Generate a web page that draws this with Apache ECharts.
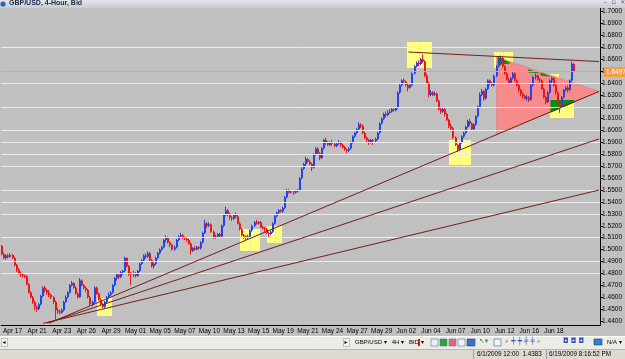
<!DOCTYPE html>
<html>
<head>
<meta charset="utf-8">
<script src="https://cdn.jsdelivr.net/npm/echarts@6/dist/echarts.min.js"></script>
<style>
  html, body { margin: 0; padding: 0; background: #c0c0c0; }
  #chart { width: 625px; height: 359px; }
</style>
</head>
<body>
<div id="chart"></div>
<script>
// GBP/USD 4-hour bars, Apr 16 - Jun 19 2009, [open, close, low, high] in pips (x 1e-4)
const ohlc = [
  [15030,14960,14950,15040],[14960,14930,14920,14975],[14930,14950,14915,14960],[14950,14940,14925,14965],[14940,14955,14930,14970],[14955,14930,14920,14965],
  [14930,14870,14860,14940],[14870,14830,14810,14880],[14830,14800,14790,14845],[14800,14790,14770,14815],[14790,14780,14765,14800],[14780,14775,14760,14790],
  [14775,14710,14700,14785],[14710,14640,14630,14720],[14640,14600,14590,14650],[14600,14560,14540,14610],[14560,14520,14490,14570],[14520,14500,14475,14530],
  [14500,14540,14490,14550],[14540,14610,14530,14620],[14610,14680,14600,14690],[14680,14660,14640,14695],[14660,14640,14620,14670],[14640,14620,14600,14660],
  [14620,14600,14585,14630],[14600,14560,14540,14610],[14560,14490,14410,14570],[14490,14480,14460,14510],[14480,14470,14455,14495],[14470,14490,14460,14505],
  [14490,14560,14480,14570],[14560,14600,14550,14615],[14600,14640,14590,14650],[14640,14700,14630,14710],[14700,14720,14690,14735],[14720,14680,14670,14725],
  [14680,14630,14620,14690],[14630,14600,14590,14640],[14600,14740,14595,14760],[14740,14700,14690,14750],[14700,14680,14665,14710],[14680,14660,14640,14690],
  [14660,14600,14590,14670],[14600,14540,14530,14610],[14540,14560,14525,14570],[14560,14680,14550,14690],[14680,14630,14620,14690],[14630,14580,14570,14640],
  [14580,14540,14530,14590],[14540,14520,14505,14550],[14520,14560,14510,14570],[14560,14600,14550,14610],[14600,14620,14590,14640],[14620,14640,14610,14650],
  [14640,14700,14630,14710],[14700,14760,14690,14770],[14760,14790,14740,14800],[14790,14770,14750,14800],[14770,14810,14760,14820],[14810,14820,14790,14830],
  [14820,14930,14810,14940],[14930,14860,14850,14935],[14860,14800,14780,14870],[14800,14790,14700,14810],[14790,14800,14770,14820],[14800,14780,14765,14810],
  [14780,14820,14770,14830],[14820,14880,14810,14890],[14880,14910,14870,14920],[14910,14950,14900,14960],[14950,14940,14925,14970],[14940,14970,14930,14985],
  [14970,14910,14900,14980],[14910,14860,14850,14920],[14860,14880,14840,14890],[14880,14930,14870,14940],[14930,14970,14920,14980],[14970,15000,14960,15010],
  [15000,15020,14990,15030],[15020,15080,15010,15090],[15080,15100,15060,15120],[15100,15060,15050,15110],[15060,15040,15020,15070],[15040,15000,14990,15050],
  [15000,15020,14990,15035],[15020,15080,15010,15090],[15080,15110,15070,15120],[15110,15120,15100,15140],[15120,15100,15085,15130],[15100,15090,15080,15110],
  [15090,15080,15065,15100],[15080,15050,15040,15090],[15050,14990,14960,15060],[14990,15010,14980,15020],[15010,15000,14990,15030],[15000,15020,14995,15030],
  [15020,15010,15000,15030],[15010,15060,15000,15070],[15060,15140,15050,15150],[15140,15220,15130,15250],[15220,15200,15180,15230],[15200,15210,15190,15230],
  [15210,15150,15140,15220],[15150,15100,15090,15160],[15100,15110,15090,15125],[15110,15130,15100,15140],[15130,15110,15100,15140],[15110,15200,15100,15210],
  [15200,15290,15190,15300],[15290,15330,15280,15360],[15330,15300,15280,15340],[15300,15270,15250,15310],[15270,15260,15240,15280],[15260,15290,15250,15300],
  [15290,15280,15260,15310],[15280,15220,15210,15290],[15220,15170,15160,15230],[15170,15120,15110,15180],[15120,15110,15090,15130],[15110,15100,15080,15120],
  [15100,15110,15085,15125],[15110,15160,15100,15170],[15160,15200,15150,15210],[15200,15230,15190,15240],[15230,15220,15210,15250],[15220,15230,15210,15240],
  [15230,15190,15180,15240],[15190,15180,15170,15200],[15180,15170,15150,15190],[15170,15140,15130,15180],[15140,15130,15100,15150],[15130,15150,15120,15160],
  [15150,15220,15140,15230],[15220,15280,15210,15290],[15280,15310,15270,15320],[15310,15330,15300,15340],[15330,15320,15310,15340],[15320,15350,15310,15360],
  [15350,15440,15340,15450],[15440,15500,15430,15510],[15500,15480,15470,15510],[15480,15490,15470,15500],[15490,15480,15460,15500],[15480,15490,15470,15500],
  [15490,15500,15480,15510],[15500,15600,15490,15610],[15600,15680,15590,15690],[15680,15720,15670,15730],[15720,15760,15700,15780],[15760,15740,15730,15770],
  [15740,15720,15710,15750],[15720,15690,15660,15730],[15690,15800,15680,15810],[15800,15850,15790,15860],[15850,15810,15800,15860],[15810,15770,15750,15820],
  [15770,15850,15760,15860],[15850,15920,15840,15930],[15920,15900,15880,15940],[15900,15880,15870,15910],[15880,15900,15870,15910],[15900,15890,15870,15920],
  [15890,15870,15860,15900],[15870,15890,15860,15900],[15890,15900,15880,15920],[15900,15880,15860,15910],[15880,15860,15850,15890],[15860,15840,15830,15870],
  [15840,15830,15810,15850],[15830,15850,15820,15860],[15850,15900,15840,15910],[15900,15950,15890,15960],[15950,15980,15940,15990],[15980,16010,15970,16020],
  [16010,16050,16000,16070],[16050,16040,16020,16060],[16040,15980,15970,16050],[15980,15940,15930,15990],[15940,15920,15900,15950],[15920,15900,15880,15930],
  [15900,15920,15890,15930],[15920,15910,15880,15930],[15910,15930,15900,15940],[15930,15980,15920,15990],[15980,16060,15970,16070],[16060,16100,16050,16110],
  [16100,16140,16090,16150],[16140,16130,16110,16160],[16130,16150,16120,16170],[16150,16160,16140,16180],[16160,16180,16150,16190],[16180,16170,16160,16200],
  [16170,16190,16160,16200],[16190,16320,16180,16330],[16320,16380,16310,16390],[16380,16420,16370,16430],[16420,16410,16390,16440],[16410,16380,16370,16420],
  [16380,16360,16330,16390],[16360,16380,16350,16400],[16380,16480,16370,16490],[16480,16540,16470,16550],[16540,16570,16530,16580],[16570,16560,16540,16590],
  [16560,16600,16550,16610],[16600,16580,16570,16640],[16580,16460,16450,16590],[16460,16400,16390,16480],[16400,16300,16280,16410],[16300,16320,16290,16340],
  [16320,16300,16290,16330],[16300,16310,16290,16330],[16310,16250,16240,16320],[16250,16180,16170,16260],[16180,16160,16140,16190],[16160,16180,16150,16200],
  [16180,16140,16120,16190],[16140,16090,16080,16150],[16090,16040,16020,16100],[16040,16020,16000,16060],[16020,15940,15930,16030],[15940,15880,15870,15950],
  [15880,15840,15820,15890],[15840,15900,15830,15910],[15900,15950,15890,15960],[15950,15980,15940,15990],[15980,16030,15970,16040],[16030,16080,16020,16090],
  [16080,16060,16040,16100],[16060,16010,16000,16070],[16010,16050,16000,16060],[16050,16120,16040,16130],[16120,16200,16110,16210],[16200,16300,16190,16320],
  [16300,16330,16290,16350],[16330,16270,16250,16340],[16270,16350,16260,16360],[16350,16420,16340,16430],[16420,16400,16380,16430],[16400,16380,16370,16410],
  [16380,16460,16370,16470],[16460,16540,16450,16550],[16540,16590,16530,16600],[16590,16610,16580,16630],[16610,16540,16530,16620],[16540,16480,16470,16550],
  [16480,16430,16420,16490],[16430,16400,16390,16440],[16400,16440,16390,16450],[16440,16480,16430,16500],[16480,16420,16410,16490],[16420,16380,16370,16430],
  [16380,16340,16320,16390],[16340,16310,16290,16350],[16310,16290,16270,16320],[16290,16270,16260,16300],[16270,16280,16250,16300],[16280,16260,16240,16290],
  [16260,16380,16250,16390],[16380,16450,16370,16460],[16450,16460,16430,16480],[16460,16430,16420,16470],[16430,16420,16400,16440],[16420,16350,16340,16430],
  [16350,16280,16270,16360],[16280,16240,16220,16290],[16240,16320,16230,16330],[16320,16420,16310,16430],[16420,16440,16400,16450],[16440,16380,16370,16450],
  [16380,16320,16300,16390],[16320,16230,16220,16330],[16230,16200,16150,16240],[16200,16280,16190,16290],[16280,16340,16270,16350],[16340,16360,16330,16370],
  [16360,16340,16320,16380],[16340,16420,16330,16430],[16420,16560,16410,16580],[16560,16497,16490,16570]
];

const slotCount = 292;              // bar slots across the window (incl. chart shift)
const xLabels = ['Apr 17','Apr 21','Apr 23','Apr 26','Apr 29','May 01','May 05','May 07','May 10','May 13','May 15',
  'May 19','May 21','May 24','May 27','May 29','Jun 02','Jun 04','Jun 07','Jun 10','Jun 12','Jun 16','Jun 18'];
const firstLabelBar = 5, barsPerLabel = 12, barsPerDay = 6;

const yTicks = [1.44,1.45,1.46,1.47,1.48,1.49,1.50,1.51,1.52,1.53,1.54,1.55,1.56,1.57,1.58,1.59,
  1.60,1.61,1.62,1.63,1.64,1.65,1.66,1.67,1.68,1.69,1.70];
const lastPrice = 1.6497;

// horizontal levels drawn on the chart
const levels = [1.6660,1.6383,1.6190,1.6040,1.5938,1.5812,1.5711,1.5526,1.5358,1.5299,1.5064,1.4900,1.4770];

// trend lines [[bar, price], [bar, price]]
const trendLines = [
  [[23, 1.4383], [291, 1.6329]],
  [[22, 1.4382], [291, 1.5930]],
  [[20, 1.4380], [291, 1.5500]],
  [[198, 1.6660], [291, 1.6580]]
];

// highlighted rectangles [fromBar, toBar, low, high]
const boxes = [
  [46, 53.3, 1.4442, 1.4593],
  [115.7, 125.4, 1.4988, 1.5173],
  [129.3, 136.5, 1.5055, 1.5198],
  [197.1, 209.2, 1.6526, 1.6745],
  [217.9, 228.6, 1.5711, 1.5921],
  [239.7, 248.9, 1.6526, 1.6660],
  [267.3, 278.9, 1.6106, 1.6324],
  [266.8, 271.5, 1.6425, 1.6476]
];

// filled triangle objects [[bar, price], ...]
const pinkTriangle = [[241, 1.6618], [291, 1.6329], [241, 1.5966]];
const greenShapes = [
  [[241.5, 1.6622], [248, 1.6565], [241.5, 1.6548]],
  [[256.5, 1.6515], [262.5, 1.6482], [256.5, 1.6488]],
  [[262.5, 1.6488], [268, 1.6450], [262.5, 1.6462]],
  [[267.3, 1.6257], [278.9, 1.6257], [278.9, 1.6235], [267.3, 1.6150]]
];

const categories = [];
for (let i = 0; i < slotCount; i++) categories.push(String(i));
const labelAt = {};
xLabels.forEach((t, k) => { labelAt[firstLabelBar + k * barsPerLabel] = t; });

const candleData = ohlc.map((r, i) => [i].concat(r.map(v => v / 10000)));

const chart = echarts.init(document.getElementById('chart'));

function pt(api, bw, i, p) {
  const b = Math.floor(i);
  const c = api.coord([b, p]);
  return [c[0] + (i - b) * bw, c[1]];
}

const font = 'Liberation Sans';
const bull = '#2444e8', bear = '#e81818';

chart.setOption({
  backgroundColor: '#c0c0c0',
  animation: false,
  grid: { left: 0, right: 22, top: 8, bottom: 34 },
  xAxis: {
    type: 'category',
    data: categories,
    boundaryGap: true,
    axisLine: { lineStyle: { color: '#000', width: 1 } },
    axisTick: {
      alignWithLabel: true, length: 3, lineStyle: { color: '#000' },
      interval: i => i >= firstLabelBar && (i - firstLabelBar) % barsPerDay === 0
    },
    axisLabel: {
      interval: i => labelAt[i] !== undefined,
      formatter: (v, i) => labelAt[i] || '',
      color: '#000', fontSize: 6.5, fontFamily: font, margin: 3
    },
    splitLine: { show: false }
  },
  yAxis: {
    type: 'value',
    position: 'right',
    min: 1.4366, max: 1.7030,
    axisLine: { show: true, lineStyle: { color: '#000' } },
    axisTick: { show: true, length: 3, customValues: yTicks, lineStyle: { color: '#000' } },
    axisLabel: {
      customValues: yTicks, formatter: v => v.toFixed(4),
      color: '#000', fontSize: 6.5, fontFamily: font, margin: 2
    },
    splitLine: { show: false }
  },
  series: [
    {
      name: 'boxes', type: 'custom', z: 1, silent: true,
      data: boxes.map(b => [Math.round(b[0]), b[2]]),
      renderItem(params, api) {
        const b = boxes[params.dataIndex];
        const bw = api.size([1, 0])[0];
        const a = pt(api, bw, b[0], b[3]);
        const c = pt(api, bw, b[1], b[2]);
        const mx = Math.round((a[0] + c[0]) / 2) + 0.5;
        return {
          type: 'group',
          children: [
            { type: 'rect', shape: { x: Math.round(a[0]), y: Math.round(a[1]),
                width: Math.round(c[0] - a[0]), height: Math.round(c[1] - a[1]) },
              style: { fill: '#ffff80' } },
            { type: 'line', shape: { x1: mx, y1: a[1], x2: mx, y2: c[1] },
              style: { stroke: '#d8d8b0', lineWidth: 1, lineDash: [1, 2] } }
          ]
        };
      }
    },
    {
      name: 'triangle', type: 'custom', z: 1, silent: true,
      data: [[pinkTriangle[0][0], pinkTriangle[0][1]]],
      renderItem(params, api) {
        const bw = api.size([1, 0])[0];
        return { type: 'polygon', shape: { points: pinkTriangle.map(p => pt(api, bw, p[0], p[1])) },
          style: { fill: '#f78a8a', stroke: '#e07070', lineWidth: 0.5 } };
      }
    },
    {
      name: 'levels', type: 'line', z: 2, silent: true, data: [],
      markLine: {
        silent: true, symbol: 'none', animation: false,
        label: { show: false },
        lineStyle: { color: '#ececec', width: 1, type: 'solid' },
        data: levels.map(v => ({ yAxis: v })).concat([{ yAxis: lastPrice, lineStyle: { color: '#e8a46a', width: 1 } }])
      }
    },
    {
      name: 'green', type: 'custom', z: 3, silent: true,
      data: greenShapes.map(s => [Math.round(s[0][0]), s[0][1]]),
      renderItem(params, api) {
        const s = greenShapes[params.dataIndex];
        const bw = api.size([1, 0])[0];
        return { type: 'polygon', shape: { points: s.map(p => pt(api, bw, p[0], p[1])) },
          style: { fill: '#0a8a14' } };
      }
    },
    {
      name: 'GBPUSD', type: 'custom', z: 4,
      data: candleData,
      encode: { x: 0, y: [1, 2, 3, 4] },
      renderItem(params, api) {
        const i = api.value(0);
        const o = api.coord([i, api.value(1)]);
        const c = api.coord([i, api.value(2)]);
        const l = api.coord([i, api.value(3)]);
        const h = api.coord([i, api.value(4)]);
        const col = api.value(2) >= api.value(1) ? bull : bear;
        const x = Math.round(o[0]);
        const top = Math.min(o[1], c[1]);
        const ht = Math.max(1, Math.abs(o[1] - c[1]));
        return {
          type: 'group',
          children: [
            { type: 'line', shape: { x1: x - 0.5, y1: h[1], x2: x - 0.5, y2: l[1] },
              style: { stroke: col, lineWidth: 1 } },
            { type: 'rect', shape: { x: x - 1, y: top, width: 2, height: ht },
              style: { fill: col } }
          ]
        };
      }
    },
    {
      name: 'trend', type: 'custom', z: 5, silent: true,
      data: trendLines.map(l => [l[0][0], l[0][1]]),
      renderItem(params, api) {
        const l = trendLines[params.dataIndex];
        const bw = api.size([1, 0])[0];
        const a = pt(api, bw, l[0][0], l[0][1]);
        const b = pt(api, bw, l[1][0], l[1][1]);
        return { type: 'line', shape: { x1: a[0], y1: a[1], x2: b[0], y2: b[1] },
          style: { stroke: '#7a1a1a', lineWidth: 1 } };
      }
    }
  ],
  graphic: [
    // window title bar
    { type: 'rect', shape: { x: 0, y: 0, width: 625, height: 8 },
      style: { fill: { type: 'linear', x: 0, y: 0, x2: 0, y2: 1,
        colorStops: [{ offset: 0, color: '#e4e6ea' }, { offset: 1, color: '#c9ccd2' }] } }, z: 10 },
    { type: 'circle', shape: { cx: 3, cy: 4, r: 2.6 }, style: { fill: '#2a6ab0' }, z: 11 },
    { type: 'text', left: 9, top: 0, z: 11,
      style: { text: 'GBP/USD, 4-Hour, Bid', fontSize: 7, fontWeight: 'bold', fontFamily: font, fill: '#1a2a44' } },
    { type: 'text', left: 604, top: -1, z: 11,
      style: { text: '–  ▫  ×', fontSize: 6.5, fontFamily: 'DejaVu Sans', fill: '#505050' } },
    // last price tag
    { type: 'rect', shape: { x: 604, y: 67, width: 21, height: 10 }, style: { fill: '#f0a048' }, z: 10 },
    { type: 'text', left: 606, top: 68.5, z: 11,
      style: { text: lastPrice.toFixed(4), fontSize: 6.5, fontFamily: font, fill: '#ffffff' } },
    // toolbar
    { type: 'rect', shape: { x: 0, y: 337, width: 625, height: 12 }, style: { fill: '#ecebe4' }, z: 10 },
    { type: 'line', shape: { x1: 0, y1: 336.5, x2: 625, y2: 336.5 }, style: { stroke: '#ffffff' }, z: 10 },
    { type: 'rect', shape: { x: 1.5, y: 338.5, width: 6, height: 8 }, style: { fill: '#f4f4f0', stroke: '#909090', lineWidth: 0.5 }, z: 11 },
    { type: 'text', left: 2.5, top: 339, z: 12, style: { text: '◂', fontSize: 6, fontFamily: 'DejaVu Sans', fill: '#000' } },
    { type: 'rect', shape: { x: 343.5, y: 338.5, width: 6, height: 8 }, style: { fill: '#f4f4f0', stroke: '#909090', lineWidth: 0.5 }, z: 11 },
    { type: 'text', left: 344.5, top: 339, z: 12, style: { text: '▸', fontSize: 6, fontFamily: 'DejaVu Sans', fill: '#000' } },
    { type: 'text', left: 355, top: 339.5, z: 11, style: { text: 'GBP/USD ▾   4H ▾   BID ▾', fontSize: 6, fontFamily: font, fill: '#000' } },
    { type: 'rect', shape: { x: 418, y: 339, width: 2, height: 7 }, style: { fill: '#d01818' }, z: 11 },
    { type: 'rect', shape: { x: 431, y: 339, width: 7, height: 7 }, style: { fill: '#e8f0f8', stroke: '#4a78b8', lineWidth: 0.6 }, z: 11 },
    { type: 'rect', shape: { x: 440, y: 339, width: 7, height: 7 }, style: { fill: '#30a030', stroke: '#4a78b8', lineWidth: 0.6 }, z: 11 },
    { type: 'rect', shape: { x: 449, y: 339, width: 7, height: 7 }, style: { fill: '#e86868', stroke: '#4a78b8', lineWidth: 0.6 }, z: 11 },
    { type: 'rect', shape: { x: 458, y: 339, width: 7, height: 7 }, style: { fill: '#f0f0f0', stroke: '#4a78b8', lineWidth: 0.6 }, z: 11 },
    { type: 'rect', shape: { x: 467, y: 339, width: 8, height: 7 }, style: { fill: '#4070c0', stroke: '#204080', lineWidth: 0.6 }, z: 11 },
    { type: 'text', left: 479, top: 338, z: 11, style: { text: '↖▾', fontSize: 7, fontFamily: 'DejaVu Sans', fill: '#30a030' } },
    { type: 'rect', shape: { x: 494, y: 339, width: 7, height: 7 }, style: { fill: '#f0f4fa', stroke: '#3060a0', lineWidth: 0.6 }, z: 11 },
    { type: 'text', left: 505, top: 337.5, z: 11, style: { text: '⌕ ┿ ┿ ╪ ╪ ⌕', fontSize: 7, fontFamily: 'DejaVu Sans', fill: '#3050c0' } },
    { type: 'text', left: 563, top: 337.5, z: 11, style: { text: '◘ ◘ ◘', fontSize: 7, fontFamily: 'DejaVu Sans', fill: '#3050c0' } },
    { type: 'rect', shape: { x: 594, y: 339, width: 8, height: 6 }, style: { fill: '#3080d0', stroke: '#204080', lineWidth: 0.6 }, z: 11 },
    { type: 'text', left: 607, top: 339.5, z: 11, style: { text: 'N/A ▾', fontSize: 6, fontFamily: font, fill: '#000' } },
    // status bar
    { type: 'rect', shape: { x: 0, y: 349, width: 625, height: 10 }, style: { fill: '#dcdad2' }, z: 10 },
    { type: 'line', shape: { x1: 0, y1: 349.5, x2: 625, y2: 349.5 }, style: { stroke: '#b8b6ae' }, z: 11 },
    { type: 'line', shape: { x1: 473.5, y1: 350, x2: 473.5, y2: 359 }, style: { stroke: '#a0a0a0' }, z: 11 },
    { type: 'line', shape: { x1: 546.5, y1: 350, x2: 546.5, y2: 359 }, style: { stroke: '#a0a0a0' }, z: 11 },
    { type: 'text', left: 477, top: 351, z: 11, style: { text: '6/1/2009 12:00  1.4383', fontSize: 6.3, fontFamily: font, fill: '#000' } },
    { type: 'text', left: 549, top: 351, z: 11, style: { text: '6/19/2009 8:16:52 PM', fontSize: 6.3, fontFamily: font, fill: '#000' } }
  ]
});
</script>
</body>
</html>
